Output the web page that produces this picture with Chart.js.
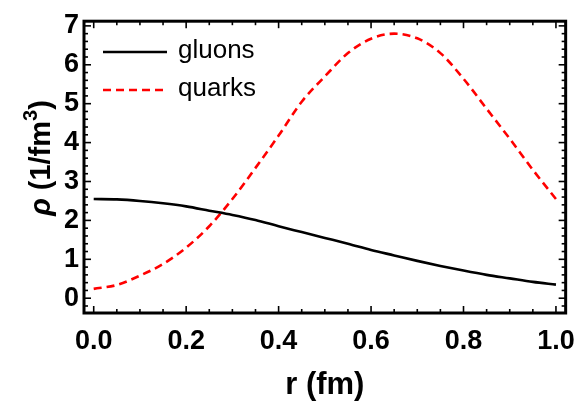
<!DOCTYPE html>
<html>
<head>
<meta charset="utf-8">
<script src="https://cdn.jsdelivr.net/npm/chart.js@4"></script>
<style>
  body { margin: 0; background: #fff; }
  #wrap { width: 587px; height: 405px; }
</style>
</head>
<body>
<div id="wrap"><canvas id="rhoChart"></canvas></div>
<script>
// r in fm
const rValues = [0, 0.05, 0.1, 0.15, 0.2, 0.25, 0.3, 0.35, 0.4, 0.45, 0.5,
                 0.55, 0.6, 0.65, 0.7, 0.75, 0.8, 0.85, 0.9, 0.95, 1.0];
const gluons = [2.55, 2.54, 2.50, 2.44, 2.36, 2.25, 2.14, 2.01, 1.85, 1.70, 1.55,
                1.40, 1.24, 1.10, 0.96, 0.83, 0.71, 0.60, 0.51, 0.42, 0.35];
const quarks = [0.24, 0.34, 0.58, 0.88, 1.30, 1.85, 2.55, 3.35, 4.18, 5.05, 5.70,
                6.30, 6.67, 6.80, 6.68, 6.30, 5.64, 4.87, 4.10, 3.30, 2.55];
const xTicks = [0, 0.2, 0.4, 0.6, 0.8, 1.0];
const yTicks = [0, 1, 2, 3, 4, 5, 6, 7];

const toPoints = ys => rValues.map((r, i) => ({ x: r, y: ys[i] }));
const FONT = '"Liberation Sans", Arial, sans-serif';

// Rahmen mit Ticks nach innen, Legende und Achsentitel
const framePlugin = {
  id: 'framePlugin',
  afterDraw(chart) {
    const { ctx, chartArea: a, scales: { x, y } } = chart;
    ctx.save();
    ctx.strokeStyle = '#000';
    ctx.lineWidth = 1.6;
    const seg = (x1, y1, x2, y2) => { ctx.beginPath(); ctx.moveTo(x1, y1); ctx.lineTo(x2, y2); ctx.stroke(); };
    for (let i = 0; i <= 20; i++) {
      const px = x.getPixelForValue(i * 0.05);
      const len = i % 4 === 0 ? 7 : 4;
      seg(px, a.bottom, px, a.bottom - len);
      seg(px, a.top, px, a.top + len);
    }
    for (let i = -1; i <= 35; i++) {
      const py = y.getPixelForValue(i * 0.2);
      if (py < a.top || py > a.bottom) continue;
      const len = i % 5 === 0 ? 7 : 4;
      seg(a.left, py, a.left + len, py);
      seg(a.right, py, a.right - len, py);
    }
    ctx.lineWidth = 3;
    ctx.strokeRect(a.left, a.top, a.right - a.left, a.bottom - a.top);

    // Legende
    ctx.font = '26px ' + FONT;
    ctx.textBaseline = 'alphabetic';
    ctx.fillStyle = '#000';
    chart.data.datasets.forEach((ds, i) => {
      const ly = 52 + i * 38;
      ctx.strokeStyle = ds.borderColor;
      ctx.lineWidth = ds.borderWidth;
      ctx.setLineDash(ds.borderDash || []);
      seg(103, ly, 167, ly);
      ctx.setLineDash([]);
      ctx.fillText(ds.label, 178, ly + 6);
    });

    // Achsentitel
    ctx.textAlign = 'center';
    ctx.font = 'bold 31px ' + FONT;
    ctx.fillText('r (fm)', (a.left + a.right) / 2, 394);

    ctx.translate(50, 158);
    ctx.rotate(-Math.PI / 2);
    ctx.textAlign = 'left';
    const parts = [
      { t: 'ρ', f: 'italic bold 29px ' + FONT, dy: 0 },
      { t: ' (1/fm', f: 'bold 29px ' + FONT, dy: 0 },
      { t: '3', f: 'bold 20px ' + FONT, dy: -13 },
      { t: ')', f: 'bold 29px ' + FONT, dy: 0 }
    ];
    let total = 0;
    parts.forEach(p => { ctx.font = p.f; p.w = ctx.measureText(p.t).width; total += p.w; });
    let cx = -total / 2;
    parts.forEach(p => { ctx.font = p.f; ctx.fillText(p.t, cx, p.dy); cx += p.w; });
    ctx.restore();
  }
};

new Chart(document.getElementById('rhoChart'), {
  type: 'line',
  data: {
    datasets: [
      { label: 'gluons', data: toPoints(gluons), borderColor: '#000', borderWidth: 2.6,
        pointRadius: 0, cubicInterpolationMode: 'monotone', fill: false },
      { label: 'quarks', data: toPoints(quarks), borderColor: '#ff0000', borderWidth: 2.6,
        borderDash: [8, 5], pointRadius: 0, cubicInterpolationMode: 'monotone', fill: false }
    ]
  },
  options: {
    responsive: true,
    maintainAspectRatio: false,
    animation: false,
    layout: { padding: { left: 0, right: 14, top: 13, bottom: 0 } },
    plugins: { legend: { display: false }, tooltip: { enabled: false } },
    scales: {
      x: {
        type: 'linear', min: -0.021, max: 1.021,
        grid: { display: false, drawTicks: false }, border: { display: false },
        afterBuildTicks: s => { s.ticks = xTicks.map(v => ({ value: v })); },
        afterFit: s => { s.height = 92; },
        ticks: { color: '#000', padding: 12, maxRotation: 0,
                 font: { family: '"Liberation Sans", Arial', size: 27, weight: 'bold' },
                 callback: v => Number(v).toFixed(1) }
      },
      y: {
        type: 'linear', min: -0.38, max: 7.12,
        grid: { display: false, drawTicks: false }, border: { display: false },
        afterBuildTicks: s => { s.ticks = yTicks.map(v => ({ value: v })); },
        afterFit: s => { s.width = 84; },
        ticks: { color: '#000', padding: 5,
                 font: { family: '"Liberation Sans", Arial', size: 27, weight: 'bold' },
                 callback: v => String(v) }
      }
    }
  },
  plugins: [framePlugin]
});
</script>
</body>
</html>
